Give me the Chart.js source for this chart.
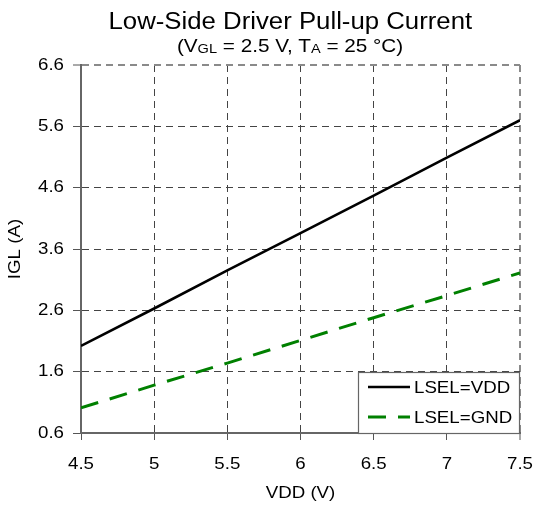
<!DOCTYPE html>
<html>
<head>
<meta charset="utf-8">
<script src="https://cdn.jsdelivr.net/npm/chart.js@4/dist/chart.umd.min.js"></script>
<style>
html,body{margin:0;padding:0;background:#fff;}
#wrap{position:relative;width:535px;height:508px;font-family:"Liberation Sans",Arial,sans-serif;color:#000;}
#c{position:absolute;left:0;top:0;}
.ttl{position:absolute;left:0;width:580px;text-align:center;line-height:1;white-space:nowrap;}
.ttl span.in{display:inline-block;transform:scaleX(1.12);transform-origin:center;}
#t1{top:10px;font-size:23px;}
#t2{top:37px;font-size:18.5px;}
.sb{font-size:13px;position:relative;top:1px;}
</style>
</head>
<body>
<div id="wrap">
  <canvas id="c" width="535" height="508"></canvas>
  <div id="t1" class="ttl"><span class="in">Low-Side Driver Pull-up Current</span></div>
  <div id="t2" class="ttl"><span class="in">(V<span class="sb">GL</span> = 2.5 V, T<span class="sb">A</span> = 25 °C)</span></div>
</div>
<script>
// ---- data ----
const vdd = [4.5, 5, 5.5, 6, 6.5, 7, 7.5];
const iglLselVdd = [2.02, 2.63, 3.25, 3.86, 4.47, 5.09, 5.70];
const iglLselGnd = [1.01, 1.38, 1.74, 2.11, 2.48, 2.84, 3.21];
const seriesNames = ['LSEL=VDD', 'LSEL=GND'];
const xTickLabels = ['4.5', '5', '5.5', '6', '6.5', '7', '7.5'];
const yTickLabels = ['0.6', '1.6', '2.6', '3.6', '4.6', '5.6', '6.6'];
const xTitle = 'VDD (V)';
const yTitle = 'IGL (A)';

const STRETCH = 1.1;
const FONT = {family: '"Liberation Sans", Arial, sans-serif', size: 17};

// horizontally stretch canvas text to match the reference's wide glyphs
const stretchPlugin = {
  id: 'stretch',
  beforeDraw(chart) {
    const ctx = chart.ctx;
    if (ctx.__stretched) return;
    const orig = ctx.fillText;
    ctx.fillText = function (text, x, y) {
      this.save();
      this.translate(x, y);
      this.scale(STRETCH, 1);
      orig.call(this, text, 0, 0);
      this.restore();
    };
    ctx.__stretched = true;
  }
};

const legendPlugin = {
  id: 'boxLegend',
  afterDraw(chart) {
    const ctx = chart.ctx;
    const a = chart.chartArea;
    const w = 162, h = 61;
    const x0 = a.right - w, y0 = a.bottom - h;
    ctx.save();
    ctx.fillStyle = '#fff';
    ctx.fillRect(x0, y0, w, h);
    ctx.strokeStyle = '#666';
    ctx.lineWidth = 1.2;
    ctx.strokeRect(x0 + 0.5, y0 + 0.5, w - 1, h);
    chart.data.datasets.forEach((ds, i) => {
      const cy = y0 + 15 + i * 30;
      ctx.beginPath();
      ctx.strokeStyle = ds.borderColor;
      ctx.lineWidth = ds.borderWidth;
      ctx.setLineDash(ds.borderDash || []);
      ctx.moveTo(x0 + 10, cy);
      ctx.lineTo(x0 + 52, cy);
      ctx.stroke();
      ctx.setLineDash([]);
      ctx.fillStyle = '#000';
      ctx.font = '17px "Liberation Sans", Arial, sans-serif';
      ctx.textAlign = 'left';
      ctx.textBaseline = 'middle';
      ctx.fillText(ds.label, x0 + 56, cy + 1);
    });
    ctx.restore();
  }
};

const gridColor = (ctx, maxV) => (ctx.tick && Math.abs(ctx.tick.value - maxV) < 1e-9) ? '#8a8a8a' : '#444';
const gridWidth = (ctx, maxV) => (ctx.tick && Math.abs(ctx.tick.value - maxV) < 1e-9) ? 2 : 1;

new Chart(document.getElementById('c'), {
  type: 'line',
  data: {
    datasets: [
      {
        label: seriesNames[0],
        data: vdd.map((x, i) => ({x: x, y: iglLselVdd[i]})),
        borderColor: '#000000',
        borderWidth: 2.6,
        pointRadius: 0,
        tension: 0,
        fill: false
      },
      {
        label: seriesNames[1],
        data: vdd.map((x, i) => ({x: x, y: iglLselGnd[i]})),
        borderColor: '#008000',
        borderWidth: 3,
        borderDash: [18, 12],
        borderCapStyle: 'butt',
        pointRadius: 0,
        tension: 0,
        fill: false
      }
    ]
  },
  options: {
    responsive: false,
    animation: false,
    devicePixelRatio: 1,
    layout: {padding: {left: 0, top: 65, right: 15, bottom: 0}},
    plugins: {legend: {display: false}, title: {display: false}, tooltip: {enabled: false}},
    scales: {
      x: {
        type: 'linear',
        min: 4.5,
        max: 7.5,
        afterBuildTicks: (s) => { s.ticks = xTickLabels.map(t => ({value: parseFloat(t)})); },
        afterFit: (s) => { s.height = 75; s.paddingLeft = 0; s.paddingRight = 0; },
        ticks: {
          callback: (v, i) => xTickLabels[i],
          color: '#000',
          font: FONT,
          padding: 14,
          maxRotation: 0,
          autoSkip: false
        },
        grid: {
          color: (c) => gridColor(c, 7.5),
          lineWidth: (c) => gridWidth(c, 7.5),
          tickColor: '#555',
          tickWidth: 1,
          tickLength: 7,
          tickBorderDash: []
        },
        border: {display: true, color: '#666', width: 2, dash: [7, 5]},
        title: {display: true, text: xTitle, color: '#000', font: FONT, padding: {top: 0, bottom: 4}}
      },
      y: {
        type: 'linear',
        min: 0.6,
        max: 6.6,
        afterBuildTicks: (s) => { s.ticks = yTickLabels.map(t => ({value: parseFloat(t)})); },
        afterFit: (s) => { s.width = 81; s.paddingTop = 0; s.paddingBottom = 0; },
        ticks: {
          callback: (v, i) => yTickLabels[i],
          color: '#000',
          font: FONT,
          padding: 9,
          autoSkip: false
        },
        grid: {
          color: (c) => gridColor(c, 6.6),
          lineWidth: (c) => gridWidth(c, 6.6),
          tickColor: '#555',
          tickWidth: 1,
          tickLength: 8,
          tickBorderDash: []
        },
        border: {display: true, color: '#666', width: 2, dash: [7, 5]},
        title: {display: true, text: yTitle, color: '#000', font: FONT, padding: {top: 5, bottom: 0}}
      }
    }
  },
  plugins: [stretchPlugin, legendPlugin]
});
</script>
</body>
</html>
